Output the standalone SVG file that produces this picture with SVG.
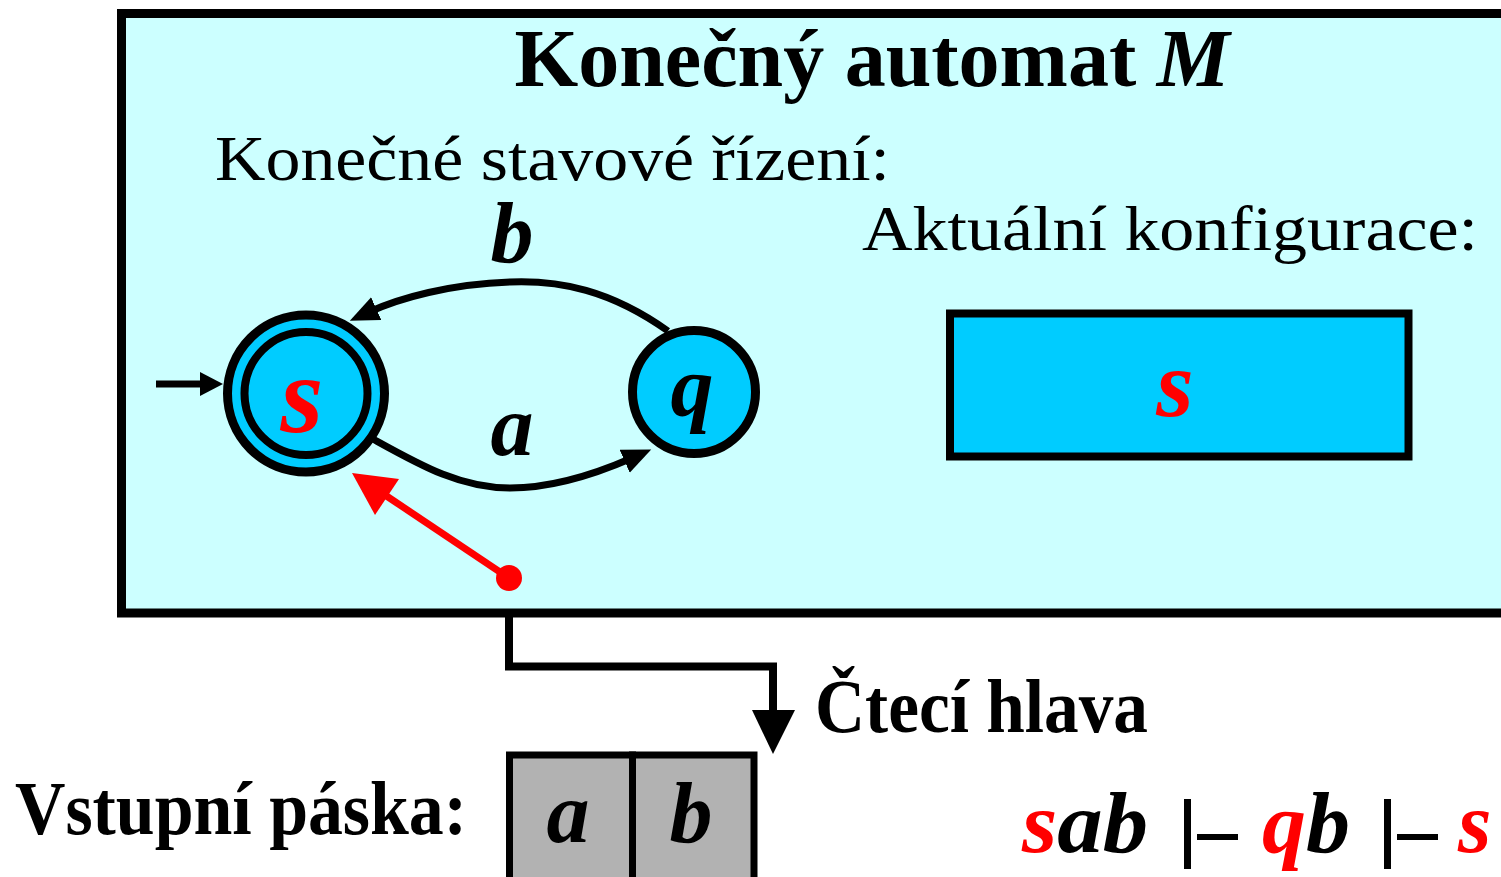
<svg xmlns="http://www.w3.org/2000/svg" width="1501" height="877" viewBox="0 0 1501 877">
<style>
.t{font-family:"Liberation Serif","Times New Roman",serif;fill:#000}
.b{font-weight:bold}
.i{font-style:italic}
.red{fill:#FF0000}
.edge{fill:none;stroke:#000;stroke-width:7}
</style>
<defs>
<marker id="ah" markerUnits="userSpaceOnUse" markerWidth="31" markerHeight="26" refX="8" refY="12.5" orient="auto">
<path d="M0,0 L29,12.5 L0,25 z" fill="#000"/>
</marker>
</defs>
<rect width="1501" height="877" fill="#fff"/>
<g id="automat">
<rect x="121.5" y="13.5" width="1400" height="599.5" fill="#CCFFFF" stroke="#000" stroke-width="9"/>
<text class="t b" x="872" y="86" font-size="82" text-anchor="middle">Konečný automat <tspan class="i">M</tspan></text>
<text class="t" x="215" y="180" font-size="64" textLength="675" lengthAdjust="spacingAndGlyphs">Konečné stavové řízení:</text>
<text class="t" x="862" y="250" font-size="64" textLength="616" lengthAdjust="spacingAndGlyphs">Aktuální konfigurace:</text>
</g>
<g id="state-s">
<circle cx="306" cy="393.5" r="78.5" fill="#00CCFF" stroke="#000" stroke-width="9"/>
<circle cx="306" cy="393.5" r="61.5" fill="#00CCFF" stroke="#000" stroke-width="8"/>
<text class="t b i red" x="302" y="432" font-size="110" text-anchor="middle">s</text>
</g>
<g id="state-q">
<circle cx="694" cy="392" r="61.5" fill="#00CCFF" stroke="#000" stroke-width="9"/>
<text class="t b i" x="692" y="415" font-size="86" text-anchor="middle">q</text>
</g>
<g id="config">
<rect x="950" y="313.5" width="458.5" height="143" fill="#00CCFF" stroke="#000" stroke-width="8"/>
<text class="t b i red" x="1175" y="416" font-size="96" text-anchor="middle">s</text>
</g>
<g id="tape">
<rect x="509.5" y="755" width="123" height="140" fill="#B2B2B2" stroke="#000" stroke-width="7"/>
<rect x="632.5" y="755" width="121.5" height="140" fill="#B2B2B2" stroke="#000" stroke-width="7"/>
<text class="t b i" x="568" y="842" font-size="86" text-anchor="middle">a</text>
<text class="t b i" x="691" y="842" font-size="86" text-anchor="middle">b</text>
<text class="t b" x="15" y="834" font-size="76" textLength="452" lengthAdjust="spacingAndGlyphs">Vstupní páska:</text>
</g>
<g id="head-label">
<text class="t b" x="815" y="732" font-size="76" textLength="333" lengthAdjust="spacingAndGlyphs">Čtecí hlava</text>
</g>
<g id="derivation">
<text class="t b i" x="1022" y="852" font-size="86" textLength="126" lengthAdjust="spacingAndGlyphs"><tspan class="red">s</tspan>ab</text>
<rect x="1184" y="799" width="7" height="70" fill="#000"/>
<rect x="1197" y="834" width="41" height="6" fill="#000"/>
<text class="t b i" x="1262" y="852" font-size="86" textLength="88" lengthAdjust="spacingAndGlyphs"><tspan class="red">q</tspan>b</text>
<rect x="1384" y="799" width="7" height="70" fill="#000"/>
<rect x="1397" y="834" width="41" height="6" fill="#000"/>
<text class="t b i red" x="1458" y="852" font-size="86">s</text>
</g>
<g id="connectors">
<path class="edge" d="M668,331 C610,290 560,280 510,282 C450,284 400,298 369,312" marker-end="url(#ah)"/>
<text class="t b i" x="512" y="262" font-size="86" text-anchor="middle">b</text>
<path class="edge" d="M373,439 C420,465 460,488 510,488 C555,488 600,472 632,458" marker-end="url(#ah)"/>
<text class="t b i" x="512" y="455" font-size="86" text-anchor="middle">a</text>
<line x1="156" y1="384" x2="204" y2="384" stroke="#000" stroke-width="7"/>
<polygon points="200,372 223,384 200,396" fill="#000"/>
<line x1="509" y1="578" x2="385" y2="495" stroke="#FF0000" stroke-width="7"/>
<polygon points="352,473 399,479 375,515" fill="#FF0000"/>
<circle cx="509" cy="578" r="13" fill="#FF0000"/>
<path d="M509,617 V666.5 H773 V712" fill="none" stroke="#000" stroke-width="8"/>
<polygon points="752,710 795,710 773,754" fill="#000"/>
</g>
</svg>
